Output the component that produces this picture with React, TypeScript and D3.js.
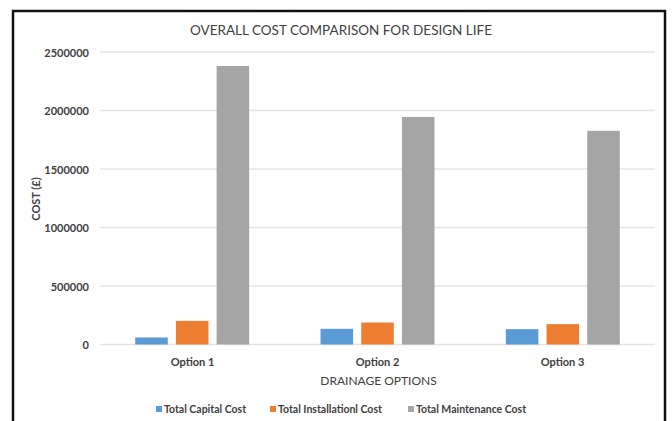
import React from "react";
import * as d3 from "d3";

const categories = ["Option 1", "Option 2", "Option 3"];
const seriesNames = ["Total Capital Cost", "Total Installationl Cost", "Total Maintenance Cost"];
const capitalCost = [60000, 134000, 131000];
const installationCost = [202000, 188000, 174000];
const maintenanceCost = [2380000, 1945000, 1826000];
const yTicks = [0, 500000, 1000000, 1500000, 2000000, 2500000];
const seriesColors = ["#5b9bd5", "#ed7d31", "#a5a5a5"];

const W = 672;
const H = 421;
const plot = { left: 100, right: 655, top: 52, bottom: 344.5 };
const FONT = "Lato, 'Open Sans', sans-serif";
const TEXT = "#404040";

export default function App() {
  const series = [capitalCost, installationCost, maintenanceCost];
  const x0 = d3.scaleBand<string>().domain(categories).range([plot.left, plot.right]).paddingInner(0.385).paddingOuter(0.19);
  const x1 = d3.scaleBand<number>().domain([0, 1, 2]).range([0, x0.bandwidth()]).paddingInner(0.2).paddingOuter(0);
  const y = d3.scaleLinear().domain([0, 2500000]).range([plot.bottom, plot.top]);
  const xCenter = (plot.left + plot.right) / 2;
  const stepCat = (plot.right - plot.left) / categories.length;

  const legendX = [156, 270, 408];

  return (
    <svg width={W} height={H} style={{ position: "absolute", left: 0, top: 0, background: "#fff" }}>
      <rect x={0} y={0} width={W} height={H} fill="#fff" />
      <rect x={13} y={11} width={652} height={H + 20} fill="none" stroke="#111" strokeWidth={2.5} />

      <text x={341} y={30} textAnchor="middle" dominantBaseline="central" fontFamily={FONT} fontSize={13.5} fill={TEXT}>
        OVERALL COST COMPARISON FOR DESIGN LIFE
      </text>

      {yTicks.map((t) => (
        <g key={t}>
          <line x1={plot.left} x2={plot.right} y1={y(t)} y2={y(t)} stroke="#e4e4e4" strokeWidth={1.5} />
          <text x={89} y={y(t)} textAnchor="end" dominantBaseline="central" fontFamily={FONT} fontSize={11} fontWeight={700} fill={TEXT}>
            {t}
          </text>
        </g>
      ))}

      {categories.map((c, ci) => (
        <g key={c}>
          {series.map((vals, si) => (
            <rect
              key={si}
              x={(x0(c) as number) + (x1(si) as number)}
              y={y(vals[ci])}
              width={x1.bandwidth()}
              height={y(0) - y(vals[ci])}
              fill={seriesColors[si]}
            />
          ))}
          <text
            x={plot.left + stepCat * (ci + 0.5)}
            y={361}
            textAnchor="middle"
            dominantBaseline="central"
            fontFamily={FONT}
            fontSize={11}
            fontWeight={700}
            fill={TEXT}
          >
            {c}
          </text>
        </g>
      ))}

      <text x={xCenter + 1} y={380} textAnchor="middle" dominantBaseline="central" fontFamily={FONT} fontSize={12} fill={TEXT}>
        DRAINAGE OPTIONS
      </text>

      <text
        transform={`translate(35,199) rotate(-90)`}
        textAnchor="middle"
        dominantBaseline="central"
        fontFamily={FONT}
        fontSize={11}
        fontWeight={700}
        fill={TEXT}
      >
        COST (£)
      </text>

      {seriesNames.map((n, i) => (
        <g key={n} transform={`translate(${legendX[i]},409)`}>
          <rect x={0} y={-3} width={6} height={6} fill={seriesColors[i]} />
          <text x={8} y={0} dominantBaseline="central" fontFamily={FONT} fontSize={10.5} fontWeight={700} fill={TEXT}>
            {n}
          </text>
        </g>
      ))}
    </svg>
  );
}
